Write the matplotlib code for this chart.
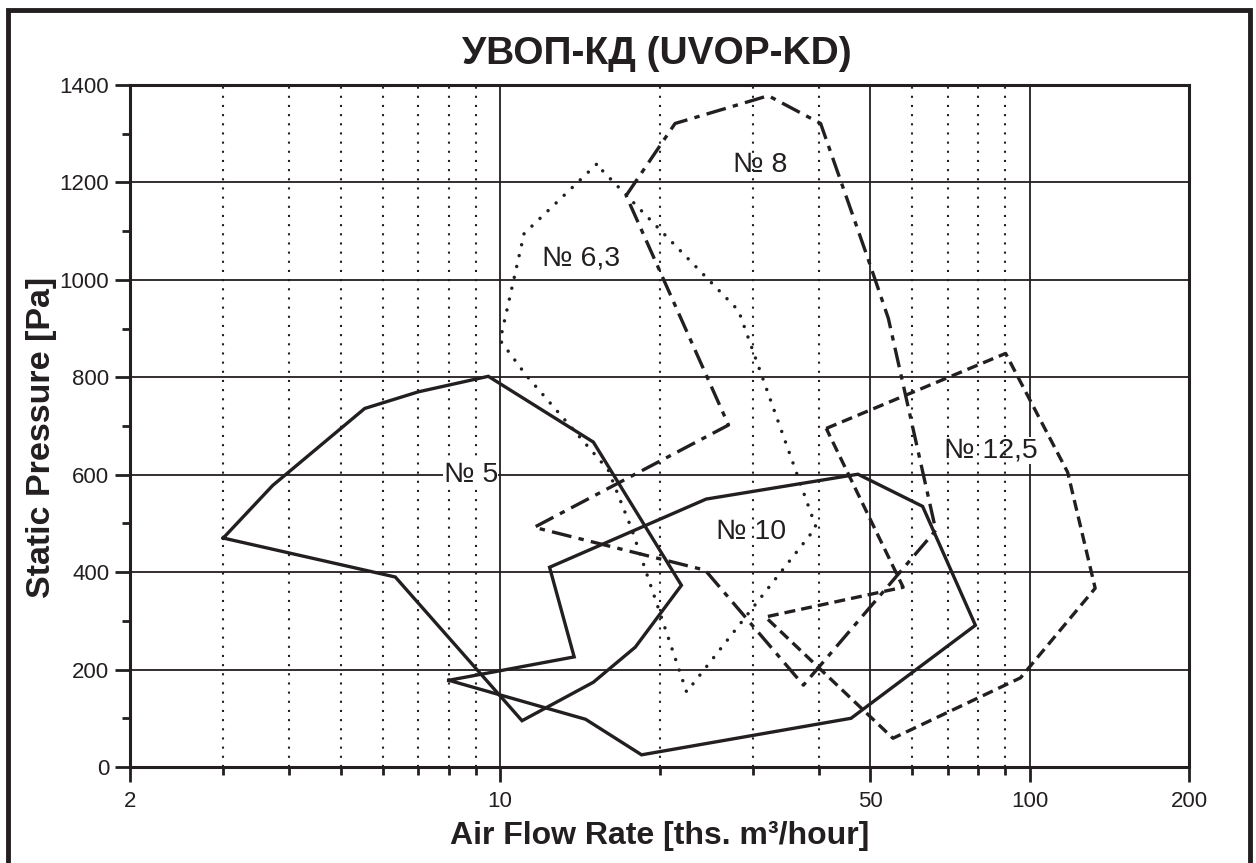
import matplotlib
matplotlib.use("Agg")
import matplotlib.pyplot as plt
from matplotlib.patches import Rectangle

plt.rcParams['font.family'] = ['Liberation Sans', 'DejaVu Sans']

INK = '#231f20'

# ---- data (air flow in ths. m3/h, static pressure in Pa) ----
n5_x = [3.0, 3.72, 5.55, 7.0, 9.5, 15.0, 22.0, 18.0, 15.0, 11.0, 6.34, 3.0]
n5_y = [470, 578, 736, 770, 802, 667, 373, 246, 174, 95, 390, 470]

n63_x = [15.2, 11.1, 10.0, 11.2, 16.0, 17.7, 22.5, 39.5, 28.2, 15.2]
n63_y = [1237, 1095, 876, 804, 610, 490, 154, 492, 937, 1237]

n8_x = [17.3, 21.4, 32.1, 40.3, 49.5, 54.1, 66.5, 37.4, 24.4, 11.6, 27.0, 17.3]
n8_y = [1173, 1321, 1378, 1321, 1044, 921, 486, 168, 404, 492, 702, 1173]

n10_x = [8.0, 13.8, 12.4, 24.5, 47.4, 62.8, 79.0, 46.0, 18.5, 14.5, 8.0]
n10_y = [178, 226, 410, 550, 601, 535, 291, 100, 25, 98, 178]

n125_x = [41.3, 90.1, 118, 133, 96.1, 55.2, 31.7, 57.7, 41.3]
n125_y = [695, 849, 605, 367, 183, 59, 308, 369, 695]

labels = ['№ 5', '№ 6,3', '№ 8', '№ 10', '№ 12,5']
label_x = [8.8, 14.2, 31.0, 29.8, 84.5]
label_y = [600, 1044, 1235, 482, 650]

x_major = [2, 10, 50, 100, 200]
x_major_labels = ['2', '10', '50', '100', '200']
x_minor = [3, 4, 5, 6, 7, 8, 9, 20, 30, 40, 60, 70, 80, 90]
y_major = [0, 200, 400, 600, 800, 1000, 1200, 1400]
y_minor = [100, 300, 500, 700, 900, 1100, 1300]

fig = plt.figure(figsize=(12.56, 8.63), dpi=100)
fig.patch.set_facecolor('white')
ax = fig.add_axes([130/1256, 1-767/863, (1189-130)/1256, (767-85)/863])
ax.set_xscale('log')
ax.set_xlim(2, 200)
ax.set_ylim(0, 1400)

# grid
for xv in [10, 50, 100]:
    ax.axvline(xv, color=INK, lw=1.3, zorder=1)
for yv in y_major[1:-1]:
    ax.axhline(yv, color=INK, lw=1.3, zorder=1)
for xv in x_minor:
    ax.axvline(xv, color=INK, lw=1.5, linestyle=(0, (1, 3.4)), zorder=3)

# polygons
ax.plot(n5_x, n5_y, color=INK, lw=2.4, solid_joinstyle='miter', zorder=6)
ax.plot(n10_x, n10_y, color=INK, lw=2.4, solid_joinstyle='miter', zorder=6)
ax.plot(n63_x, n63_y, color=INK, lw=2.5, linestyle=(0, (0.01, 3.2)),
        dash_capstyle='round', zorder=6)
ax.plot(n8_x, n8_y, color=INK, lw=2.4, linestyle=(0, (6.0, 2.2, 1.6, 2.2)), zorder=6)
ax.plot(n125_x, n125_y, color=INK, lw=2.4, linestyle=(0, (3.3, 1.8)), zorder=6)

# labels
zs = [4, 2, 2, 2, 2]
for t, lx, ly, z in zip(labels, label_x, label_y, zs):
    ax.text(lx, ly, t, ha='center', va='center', fontsize=20.5, color=INK, zorder=z,
            bbox=dict(facecolor='white', edgecolor='none', pad=0.5))

# ticks
ax.set_xticks(x_major)
ax.set_xticklabels(x_major_labels)
ax.set_xticks(x_minor, minor=True)
ax.set_xticklabels([], minor=True)
ax.set_yticks(y_major)
ax.set_yticks(y_minor, minor=True)
ax.tick_params(axis='both', which='major', direction='out', length=11, width=2,
               color=INK, labelsize=16, labelcolor=INK, pad=4)
ax.tick_params(axis='both', which='minor', direction='out', length=6, width=2, color=INK)
ax.tick_params(axis='x', which='major', pad=6)
for s in ax.spines.values():
    s.set_linewidth(2.2)
    s.set_color(INK)

fig.text(657/1256, 1-54/863, 'УВОП-КД (UVOP-KD)', fontsize=28, fontweight='bold',
         color=INK, ha='center', va='center')
ax.set_xlabel('Air Flow Rate [ths. m³/hour]', fontsize=23, fontweight='bold', color=INK,
              labelpad=7)
ax.set_ylabel('Static Pressure [Pa]', fontsize=24.5, fontweight='bold', color=INK)
ax.yaxis.set_label_coords((57 - 130) / 1059, (767 - 437) / 682)

# outer frame
fig.add_artist(Rectangle((8/1256, -0.05), (1250-8)/1256, 1.05 - 10/863,
                         transform=fig.transFigure, fill=False, lw=3.5,
                         edgecolor=INK, clip_on=False))

fig.savefig('out.png', dpi=100, facecolor='white')
